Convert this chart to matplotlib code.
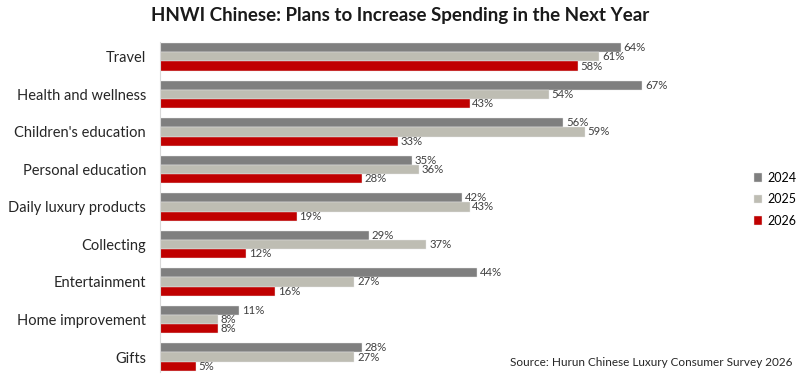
import matplotlib.pyplot as plt
import numpy as np

plt.rcParams['font.family'] = ['Lato', 'DejaVu Sans']

categories = ["Travel", "Health and wellness", "Children's education", "Personal education",
              "Daily luxury products", "Collecting", "Entertainment", "Home improvement", "Gifts"]
years = ["2024", "2025", "2026"]
v2024 = [64, 67, 56, 35, 42, 29, 44, 11, 28]
v2025 = [61, 54, 59, 36, 43, 37, 27, 8, 27]
v2026 = [58, 43, 33, 28, 19, 12, 16, 8, 5]
colors = ["#7f7f7f", "#bebdb3", "#c00000"]

fig = plt.figure(figsize=(8, 3.76), dpi=100)
ax = fig.add_axes([0.2, 0.0106, 0.675, 0.878])

y = np.arange(len(categories))
h = 0.245
for i, (vals, yr) in enumerate(zip([v2024, v2025, v2026], years)):
    bars = ax.barh(y + (i - 1) * h, vals, height=h, color=colors[i], label=yr,
                   edgecolor="#e8e8e8", linewidth=0.3)
    ax.bar_label(bars, labels=[f"{v}%" for v in vals], padding=2, fontsize=8.2, color="#404040")

ax.set_ylim(8.4, -0.4)
ax.set_xlim(0, 75)
ax.set_yticks(y)
ax.set_yticklabels(categories, fontsize=10.5, color="#262626")
ax.tick_params(axis="y", length=0, pad=10)
ax.set_xticks([])
for s in ["top", "right", "bottom"]:
    ax.spines[s].set_visible(False)
ax.spines["left"].set_color("#d9d9d9")

fig.text(0.5, 0.96, "HNWI Chinese: Plans to Increase Spending in the Next Year",
         ha="center", va="center", fontsize=13.5, fontweight="bold", color="#1a1a1a")
fig.text(0.99, 0.035, "Source: Hurun Chinese Luxury Consumer Survey 2026",
         ha="right", va="center", fontsize=8.5, color="#262626")

fig.legend(loc="center left", bbox_to_anchor=(0.942, 0.47), frameon=False, fontsize=9,
           handlelength=0.7, handleheight=0.7, handletextpad=0.4, labelspacing=0.75,
           borderaxespad=0, borderpad=0)

fig.savefig("out.png", dpi=100)
